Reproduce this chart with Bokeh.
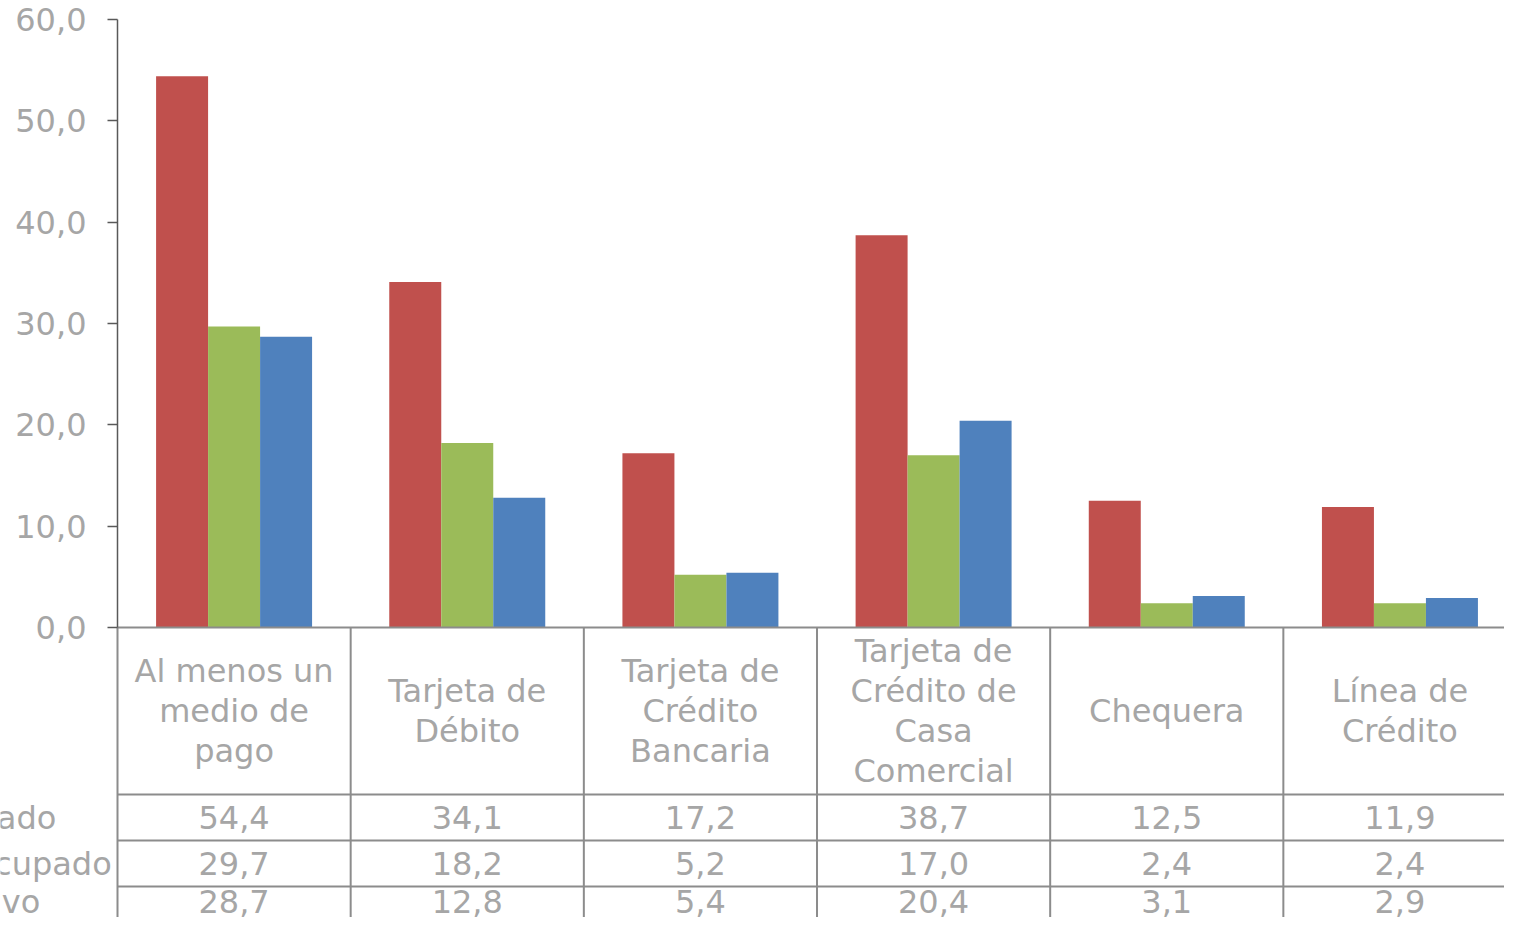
from bokeh.plotting import figure
from bokeh.models import Range1d, FixedTicker, ColumnDataSource
from bokeh.core.properties import value
from bokeh.embed import file_html
from bokeh.resources import INLINE

# ---------------- data ----------------
categories = [
    "Al menos un\nmedio de\npago",
    "Tarjeta de\nDébito",
    "Tarjeta de\nCrédito\nBancaria",
    "Tarjeta de\nCrédito de\nCasa\nComercial",
    "Chequera",
    "Línea de\nCrédito",
]
series_names = ["Ocupado", "Desocupado", "Inactivo"]
ocupado = [54.4, 34.1, 17.2, 38.7, 12.5, 11.9]
desocupado = [29.7, 18.2, 5.2, 17.0, 2.4, 2.4]
inactivo = [28.7, 12.8, 5.4, 20.4, 3.1, 2.9]
y_ticks = [0, 10, 20, 30, 40, 50, 60]

# ---------------- style / layout ----------------
COLORS = ["#C0504D", "#9BBB59", "#4F81BD"]
TEXT = "#A6A6A6"
GRID = "#8C8C8C"
AXIS = "#595959"
FONT = "DejaVu Sans"
FS = "32px"

W, H = 1504, 917
LEFT = 117          # canvas x of the value axis / table left edge
CAT_W = 233.17      # px per category column
ZERO_PX = 627       # canvas y of value 0
TOP_PX = 19         # canvas y of value 60
PX = (ZERO_PX - TOP_PX) / 60.0

def px_to_val(px_below_zero):
    return -px_below_zero / PX

n = len(categories)
y_start = px_to_val(H - ZERO_PX)
y_end = ZERO_PX / PX
x_start = -LEFT / CAT_W
x_end = (W - LEFT) / CAT_W

# table geometry (px below zero line)
header_bottom = 167
row_bottoms = [213, 259, 310]
row_centers = [190, 236, 274]
ROW_LABEL_X = -0.875

p = figure(width=W, height=H, output_backend="svg", toolbar_location=None,
           x_range=Range1d(x_start, x_end), y_range=Range1d(y_start, y_end),
           x_axis_location=None, y_axis_location="left",
           min_border_left=0, min_border_right=0,
           min_border_top=0, min_border_bottom=0)
p.outline_line_color = None
p.xgrid.visible = False
p.ygrid.visible = False
p.background_fill_color = "white"
p.border_fill_color = "white"

yax = p.yaxis[0]
yax.fixed_location = 0
yax.ticker = FixedTicker(ticks=y_ticks)
yax.bounds = (0, 60)
yax.major_label_overrides = {t: f"{t:.1f}".replace(".", ",") for t in y_ticks}
yax.major_label_text_font = FONT
yax.major_label_text_font_size = FS
yax.major_label_text_color = TEXT
yax.major_label_standoff = 21
yax.axis_line_color = AXIS
yax.axis_line_width = 1.5
yax.major_tick_line_color = AXIS
yax.major_tick_line_width = 1.5
yax.major_tick_out = 10
yax.major_tick_in = 0
yax.minor_tick_line_color = None

# ---------------- bars ----------------
bw = 0.223
offsets = [-bw, 0.0, bw]
series_vals = [ocupado, desocupado, inactivo]
centers = [i + 0.5 for i in range(n)]
for vals, off, col in zip(series_vals, offsets, COLORS):
    src = ColumnDataSource(dict(x=[c + off for c in centers], top=vals))
    p.vbar(x="x", top="top", bottom=0, width=bw, source=src,
           fill_color=col, line_color=None)

# ---------------- table ----------------
h_lines_y = [0.0] + [px_to_val(v) for v in [header_bottom] + row_bottoms]
p.segment(x0=[0] * len(h_lines_y), x1=[n] * len(h_lines_y),
          y0=h_lines_y, y1=h_lines_y, line_color=GRID, line_width=2)
p.segment(x0=list(range(n + 1)), x1=list(range(n + 1)),
          y0=[0] * (n + 1), y1=[y_start] * (n + 1), line_color=GRID, line_width=2)

# category header texts
p.text(x=centers, y=[px_to_val(header_bottom / 2)] * n, text=categories,
       text_align="center", text_baseline="middle", text_line_height=1.047,
       text_font=value(FONT), text_font_size=FS, text_color=TEXT)

# value cells
tx, ty, tt = [], [], []
for r, vals in enumerate(series_vals):
    yc = px_to_val(row_centers[r])
    for i, v in enumerate(vals):
        tx.append(centers[i])
        ty.append(yc)
        tt.append(f"{v:.1f}".replace(".", ","))
p.text(x="x", y="y", text="t", source=ColumnDataSource(dict(x=tx, y=ty, t=tt)),
       text_align="center", text_baseline="middle",
       text_font=value(FONT), text_font_size=FS, text_color=TEXT)

# row labels (left of the table, partly outside the canvas as in the original)
p.text(x=[ROW_LABEL_X] * len(series_names), y=[px_to_val(c) for c in row_centers],
       text=series_names, text_align="left", text_baseline="middle",
       text_font=value(FONT), text_font_size=FS, text_color=TEXT)

open("out.html", "w").write(file_html(p, INLINE))
